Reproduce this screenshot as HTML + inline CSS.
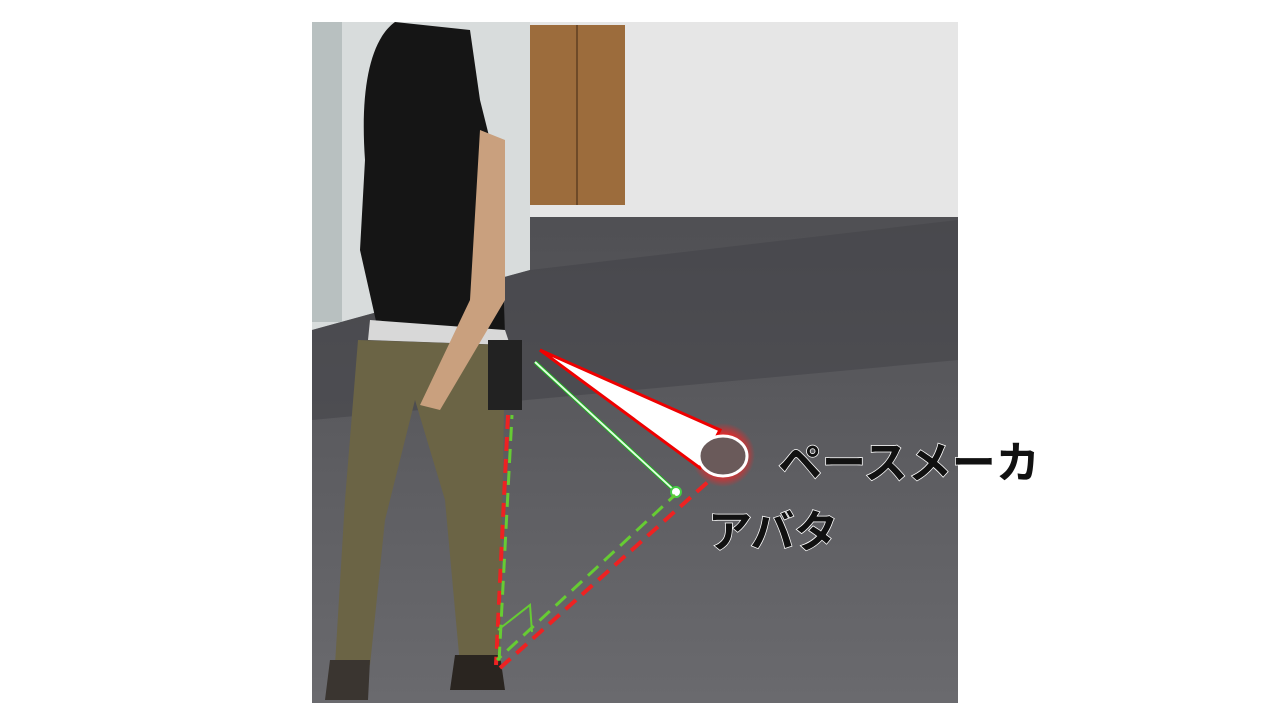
<!DOCTYPE html>
<html><head><meta charset="utf-8"><style>
html,body{margin:0;padding:0;background:#fff;width:1280px;height:720px;overflow:hidden}
svg{display:block}
.lbl{font-family:"Liberation Sans","Noto Sans CJK JP",sans-serif;font-weight:bold;fill:#111;stroke:#fff;stroke-width:1.5;paint-order:stroke}
</style></head><body>
<svg width="1280" height="720" viewBox="0 0 1280 720">
<defs>
<linearGradient id="carpet" x1="0" y1="0" x2="0" y2="1"><stop offset="0" stop-color="#4a4a4e"/><stop offset="0.3" stop-color="#505054"/><stop offset="1" stop-color="#6a6a6e"/></linearGradient>
<radialGradient id="glow"><stop offset="0.6" stop-color="#ff2020" stop-opacity="0.9"/><stop offset="1" stop-color="#ff2020" stop-opacity="0"/></radialGradient>
</defs>
<g>
<rect x="312" y="22" width="646" height="681" fill="url(#carpet)"/>
<rect x="520" y="22" width="438" height="195" fill="#e6e6e6"/>
<rect x="530" y="25" width="95" height="180" fill="#9c6c3c"/>
<line x1="577" y1="25" x2="577" y2="205" stroke="#6e4a28" stroke-width="2"/>
<polygon points="312,22 530,22 530,270 312,330" fill="#d8dcdc"/>
<rect x="312" y="22" width="30" height="300" fill="#b8c0c0"/>
<polygon points="312,330 530,270 958,220 958,360 312,420" fill="#45454a" opacity="0.6"/>
</g>
<g>
<path d="M395,22 C370,40 360,90 365,160 L360,250 L378,330 L505,335 L500,180 L480,100 L470,30 Z" fill="#151515"/>
<path d="M370,320 L505,330 L510,345 L368,340 Z" fill="#d8d8d8"/>
<path d="M358,340 L505,345 L500,660 L460,665 L445,500 L415,400 L385,520 L370,665 L335,665 L345,500 Z" fill="#6b6445"/>
<path d="M480,130 L505,140 L505,300 L440,410 L420,405 L470,300 Z" fill="#c9a07e"/>
<rect x="488" y="340" width="34" height="70" fill="#222"/>
<path d="M330,660 L370,660 L368,700 L325,700 Z" fill="#3a3530"/>
<path d="M455,655 L500,655 L505,690 L450,690 Z" fill="#2a2520"/>
</g>
<g>
<circle cx="723" cy="455" r="32" fill="url(#glow)"/>
<polygon points="540,350 720,430 700,468" fill="#fff" stroke="#e00" stroke-width="3"/>
<ellipse cx="723" cy="456" rx="24" ry="20" fill="#6a5a5a" stroke="#fff" stroke-width="3"/>
<line x1="535" y1="362" x2="676" y2="492" stroke="#2a2" stroke-width="4"/>
<line x1="535" y1="362" x2="676" y2="492" stroke="#dfd" stroke-width="2"/>
<circle cx="676" cy="492" r="5" fill="#fff" stroke="#4c4" stroke-width="2"/>
<line x1="508" y1="415" x2="496" y2="665" stroke="#e22" stroke-width="4" stroke-dasharray="14,8"/>
<line x1="512" y1="415" x2="499" y2="662" stroke="#6c3" stroke-width="3" stroke-dasharray="14,8" stroke-dashoffset="10"/>
<line x1="500" y1="668" x2="710" y2="480" stroke="#e22" stroke-width="4" stroke-dasharray="14,8"/>
<line x1="497" y1="660" x2="675" y2="495" stroke="#6c3" stroke-width="3" stroke-dasharray="14,8" stroke-dashoffset="8"/>
<polyline points="498,630 530,605 532,632" fill="none" stroke="#6c3" stroke-width="2"/>
</g>
<text x="778" y="478" font-size="44" class="lbl">ペースメーカ</text>
<text x="708" y="547" font-size="44" class="lbl">アバタ</text>
</svg>
</body></html>
